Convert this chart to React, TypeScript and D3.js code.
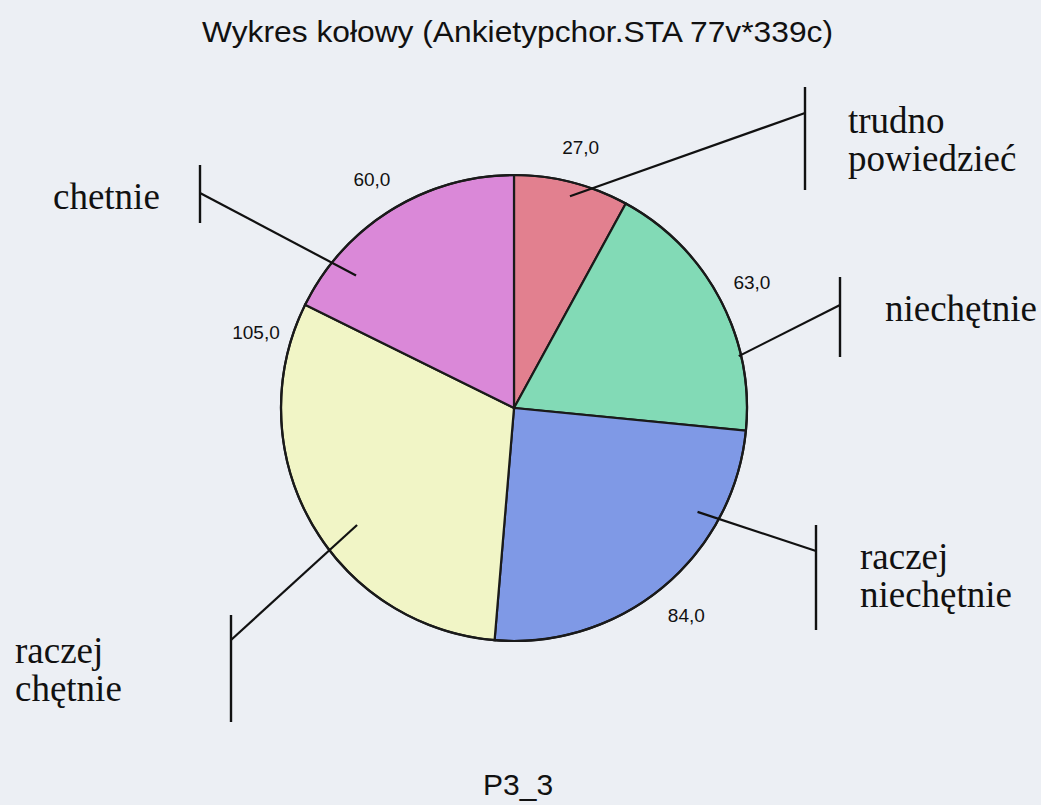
import React from "react";
import * as d3 from "d3";

const title = "Wykres kołowy (Ankietypchor.STA 77v*339c)";
const footer = "P3_3";
const categories = ["trudno powiedzieć", "niechętnie", "raczej niechętnie", "raczej chętnie", "chetnie"];
const values = [27, 63, 84, 105, 60];
const valueLabels = ["27,0", "63,0", "84,0", "105,0", "60,0"];
const labelLines = [["trudno", "powiedzieć"], ["niechętnie"], ["raczej", "niechętnie"], ["raczej", "chętnie"], ["chetnie"]];
const colors = ["#e2808f", "#82dab6", "#7f99e6", "#f1f5c6", "#da88d8"];

// layout (not data)
const CX = 514, CY = 408, R = 233;
const leaderStart = [
  { a: 14.8, r: 0.94 },
  { a: 77, r: 0.99 },
  { a: 119.5, r: 0.905 },
  { a: 233.3, r: 0.84 },
  { a: 310, r: 0.885 },
];
const bars = [
  { x: 805, y0: 87, y1: 190, hit: 113, tx: 848, ty: 133 },
  { x: 840, y0: 277, y1: 357, hit: 305, tx: 885, ty: 321 },
  { x: 816, y0: 525, y1: 630, hit: 551, tx: 860, ty: 569 },
  { x: 231, y0: 615, y1: 722, hit: 640, tx: 15, ty: 663 },
  { x: 200, y0: 165, y1: 223, hit: 193, tx: 53, ty: 209 },
];
const valueLabelAngleOverride: (number | null)[] = [null, null, null, 286.5, null];

const polar = (deg: number, r: number) => {
  const rad = (deg * Math.PI) / 180;
  return [CX + r * Math.sin(rad), CY - r * Math.cos(rad)];
};

export default function App() {
  const pie = d3.pie<number>().sort(null).value((d) => d)(values);
  const arc = d3.arc<d3.PieArcDatum<number>>().innerRadius(0).outerRadius(R);

  return (
    <svg
      width={1041}
      height={805}
      style={{ position: "absolute", left: 0, top: 0 }}
      xmlns="http://www.w3.org/2000/svg"
    >
      <rect x={0} y={0} width={1041} height={805} fill="#eceff4" />
      <text x={202} y={42} textLength={631} lengthAdjust="spacingAndGlyphs" fontFamily="Liberation Sans, Arial, sans-serif" fontSize={30} fill="#111">
        {title}
      </text>
      <g transform={`translate(${CX},${CY})`}>
        {pie.map((p, i) => (
          <path key={categories[i]} d={arc(p) || ""} fill={colors[i]} stroke="#1a1a1a" strokeWidth={2.2} />
        ))}
        <circle r={R} fill="none" stroke="#1a1a1a" strokeWidth={2.2} />
      </g>
      {pie.map((p, i) => {
        const mid = ((p.startAngle + p.endAngle) / 2) * (180 / Math.PI);
        const ang = valueLabelAngleOverride[i] ?? mid;
        const [x, y] = polar(ang, R * 1.155);
        return (
          <text key={"v" + i} x={x} y={y + 7} textAnchor="middle" fontFamily="Liberation Sans, Arial, sans-serif" fontSize={19} fill="#111">
            {valueLabels[i]}
          </text>
        );
      })}
      {bars.map((b, i) => {
        const [sx, sy] = polar(leaderStart[i].a, leaderStart[i].r * R);
        return (
          <g key={"l" + i}>
            <line x1={sx} y1={sy} x2={b.x} y2={b.hit} stroke="#111" strokeWidth={2.2} />
            <line x1={b.x} y1={b.y0} x2={b.x} y2={b.y1} stroke="#111" strokeWidth={2.4} />
            {labelLines[i].map((t, j) => (
              <text key={j} x={b.tx} y={b.ty + j * 38} fontFamily="Liberation Serif, Times New Roman, serif" fontSize={37} fill="#111">
                {t}
              </text>
            ))}
          </g>
        );
      })}
      <text x={483} y={795} fontFamily="Liberation Sans, Arial, sans-serif" fontSize={30} fill="#111">
        {footer}
      </text>
    </svg>
  );
}
